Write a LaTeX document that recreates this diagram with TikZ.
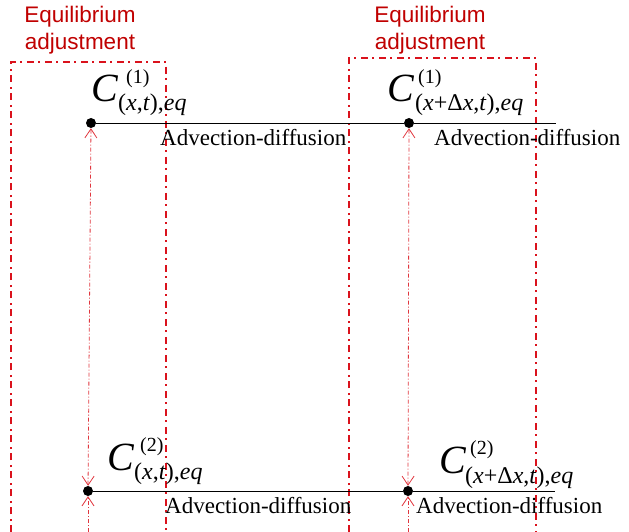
\documentclass[tikz,border=0pt]{standalone}
\usepackage{fontspec}
\setmainfont{Liberation Serif}
\newfontfamily\adjfont{Liberation Sans}
\usetikzlibrary{arrows.meta, positioning}
\definecolor{adjred}{RGB}{192,0,0}
\definecolor{boxred}{RGB}{218,18,28}

\tikzset{
  barb/.tip={Straight Barb[length=9pt, width=12pt]},
  stationdot/.style={circle, fill=black, inner sep=0pt, minimum size=10pt},
  adjbox/.style={draw=boxred, line width=1.6pt, dash pattern=on 7pt off 4pt on 2pt off 5pt},
  adjline/.style={draw=boxred!85, line width=0.8pt, dash pattern=on 4pt off 2pt on 1pt off 2pt},
  adjtext/.style={text=adjred, font=\adjfont\fontsize{22.5}{27}\selectfont, align=center, inner sep=0pt},
  flowtext/.style={font=\fontsize{23}{27}\selectfont, inner sep=0pt, anchor=base west},
  bigC/.style={font=\fontsize{40}{40}\selectfont\itshape, inner sep=0pt, anchor=base west},
  supC/.style={font=\fontsize{20}{20}\selectfont, inner sep=0pt, anchor=base west},
  subC/.style={font=\fontsize{24}{24}\selectfont, inner sep=0pt, anchor=base west}
}

\begin{document}
\begin{tikzpicture}[x=1pt, y=-1pt]
  % page size
  \useasboundingbox (0,0) rectangle (629,532);
  % equilibrium adjustment boxes (open at the bottom)
  \draw[adjbox] (11,532) -- (11,62) -- (166,62) -- (166,532);
  \draw[adjbox] (349,532) -- (349,58) -- (536,58) -- (536,532);
  \node[adjtext] (adjA) at (80,30.6) {Equilibrium\\adjustment};
  \node[adjtext] (adjB) at (430,30) {Equilibrium\\adjustment};

  % the four stations
  \node[stationdot] (a1) at (91,123) {};
  \node[stationdot] (a2) at (409,123) {};
  \node[stationdot] (b1) at (88,491) {};
  \node[stationdot] (b2) at (408,491) {};
  \coordinate (aend) at (556,123);
  \coordinate (bend) at (555,491);
  \coordinate (b1low) at (88,532);
  \coordinate (b2low) at (408,532);

  % advection-diffusion lines
  \draw[line width=0.8pt] (a1) -- (a2) -- (aend);
  \draw[line width=0.8pt] (b1) -- (b2) -- (bend);
  \node[flowtext] (flowA1) at (160,146) {Advection-diffusion};
  \node[flowtext] (flowA2) at (434,146) {Advection-diffusion};
  \node[flowtext] (flowB1) at (165,513) {Advection-diffusion};
  \node[flowtext] (flowB2) at (416,513) {Advection-diffusion};

  % exchange between the two phases
  \draw[adjline, barb-barb] (b1) -- (a1);
  \draw[adjline, barb-barb] (b2) -- (a2);
  \draw[adjline, -barb] (b1low) -- (b1);
  \draw[adjline, -barb] (b2low) -- (b2);

  % concentration labels
  \node[bigC] (cA1) at (91,102) {C};
  \node[supC] (cA1s) at (126,84) {(1)};
  \node[subC] (cA1i) at (118,111) {(\textit{x},\textit{t}),\textit{eq}};
  \node[bigC] (cA2) at (387,102) {C};
  \node[supC] (cA2s) at (418,84) {(1)};
  \node[subC] (cA2i) at (415,111) {(\textit{x}+Δ\textit{x},\textit{t}),\textit{eq}};
  \node[bigC] (cB1) at (107,470) {C};
  \node[supC] (cB1s) at (140,451) {(2)};
  \node[subC] (cB1i) at (134,479) {(\textit{x},\textit{t}),\textit{eq}};
  \node[bigC] (cB2) at (439,473) {C};
  \node[supC] (cB2s) at (470,454) {(2)};
  \node[subC] (cB2i) at (465,483) {(\textit{x}+Δ\textit{x},\textit{t}),\textit{eq}};
\end{tikzpicture}
\end{document}
